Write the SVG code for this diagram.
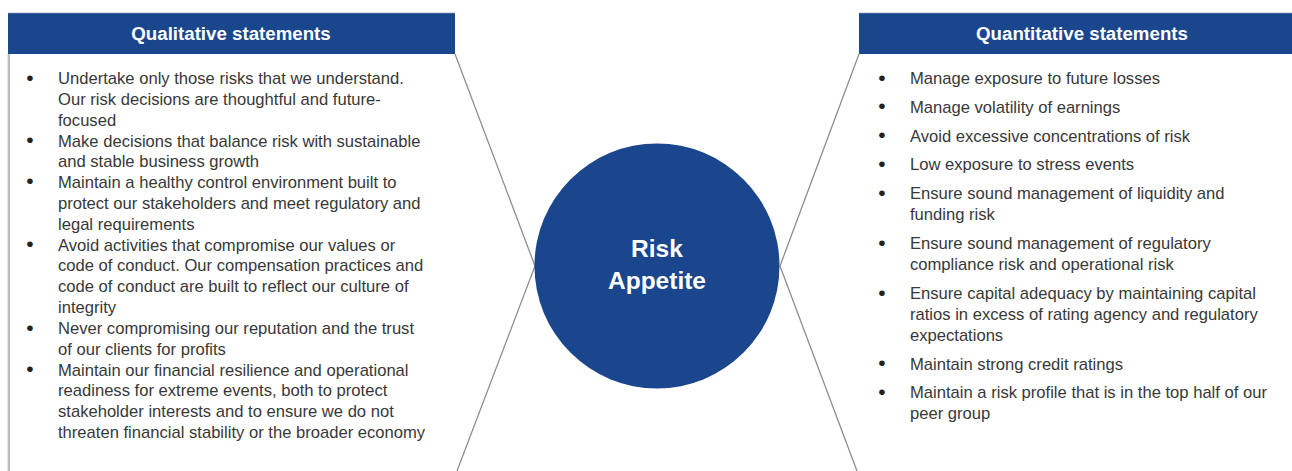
<svg xmlns="http://www.w3.org/2000/svg" width="1292" height="471" viewBox="0 0 1292 471">
<style>
.hdr{fill:#1a468e}
.hdrtxt{font-family:"Liberation Sans",Arial,sans-serif;font-size:18.7px;font-weight:bold;fill:#ffffff;text-anchor:middle}
.body{font-family:"Liberation Sans",Arial,sans-serif;font-size:16.6px;fill:#383838}
.bul{font-family:"Liberation Sans",Arial,sans-serif;font-size:21px;fill:#222222;text-anchor:middle}
.conn{stroke:#8e8e8e;stroke-width:1.3;fill:none}
.ctxt{font-family:"Liberation Sans",Arial,sans-serif;font-size:24.5px;font-weight:bold;fill:#ffffff;text-anchor:middle}
</style>
<rect width="1292" height="471" fill="#ffffff"/>
<g id="connectors">
<polyline class="conn" points="455,54 535,266 457,471"/>
<polyline class="conn" points="859,54 780,266 857,471"/>
<line x1="8.8" y1="54" x2="8.8" y2="471" stroke="#bdbdbd" stroke-width="2.4"/>
</g>
<g id="qualitative">
<rect class="hdr" x="8" y="13" width="447" height="41"/>
<line x1="8" y1="12.8" x2="455" y2="12.8" stroke="#b9c3d6" stroke-width="0.8"/>
<text class="hdrtxt" x="231" y="40">Qualitative statements</text>
<g class="bul">
<text x="30" y="84.5">•</text>
<text x="30" y="147">•</text>
<text x="30" y="188">•</text>
<text x="30" y="251">•</text>
<text x="30" y="334.5">•</text>
<text x="30" y="376">•</text>
</g>
<text class="body">
<tspan x="58" y="84">Undertake only those risks that we understand.</tspan>
<tspan x="58" y="104.8">Our risk decisions are thoughtful and future-</tspan>
<tspan x="58" y="125.6">focused</tspan>
<tspan x="58" y="146.5">Make decisions that balance risk with sustainable</tspan>
<tspan x="58" y="167.3">and stable business growth</tspan>
<tspan x="58" y="188.1">Maintain a healthy control environment built to</tspan>
<tspan x="58" y="208.9">protect our stakeholders and meet regulatory and</tspan>
<tspan x="58" y="229.7">legal requirements</tspan>
<tspan x="58" y="250.6">Avoid activities that compromise our values or</tspan>
<tspan x="58" y="271.4">code of conduct. Our compensation practices and</tspan>
<tspan x="58" y="292.2">code of conduct are built to reflect our culture of</tspan>
<tspan x="58" y="313">integrity</tspan>
<tspan x="58" y="333.8">Never compromising our reputation and the trust</tspan>
<tspan x="58" y="354.7">of our clients for profits</tspan>
<tspan x="58" y="375.5">Maintain our financial resilience and operational</tspan>
<tspan x="58" y="396.3">readiness for extreme events, both to protect</tspan>
<tspan x="58" y="417.1">stakeholder interests and to ensure we do not</tspan>
<tspan x="58" y="438">threaten financial stability or the broader economy</tspan>
</text>
</g>
<g id="risk-appetite">
<circle cx="657" cy="266" r="122.5" fill="#1a468e"/>
<text class="ctxt" x="657" y="257">Risk</text>
<text class="ctxt" x="657" y="289">Appetite</text>
</g>
<g id="quantitative">
<rect class="hdr" x="859" y="13" width="433" height="41"/>
<line x1="859" y1="12.8" x2="1292" y2="12.8" stroke="#b9c3d6" stroke-width="0.8"/>
<text class="hdrtxt" x="1082" y="40">Quantitative statements</text>
<g class="bul">
<text x="882" y="84.5">•</text>
<text x="882" y="113.3">•</text>
<text x="882" y="142.1">•</text>
<text x="882" y="170.9">•</text>
<text x="882" y="199.7">•</text>
<text x="882" y="249.8">•</text>
<text x="882" y="299.8">•</text>
<text x="882" y="370">•</text>
<text x="882" y="398.8">•</text>
</g>
<text class="body">
<tspan x="910" y="84">Manage exposure to future losses</tspan>
<tspan x="910" y="112.8">Manage volatility of earnings</tspan>
<tspan x="910" y="141.6">Avoid excessive concentrations of risk</tspan>
<tspan x="910" y="170.4">Low exposure to stress events</tspan>
<tspan x="910" y="199.2">Ensure sound management of liquidity and</tspan>
<tspan x="910" y="220">funding risk</tspan>
<tspan x="910" y="249.3">Ensure sound management of regulatory</tspan>
<tspan x="910" y="270.1">compliance risk and operational risk</tspan>
<tspan x="910" y="299.3">Ensure capital adequacy by maintaining capital</tspan>
<tspan x="910" y="320.1">ratios in excess of rating agency and regulatory</tspan>
<tspan x="910" y="340.9">expectations</tspan>
<tspan x="910" y="369.5">Maintain strong credit ratings</tspan>
<tspan x="910" y="398.3">Maintain a risk profile that is in the top half of our</tspan>
<tspan x="910" y="419.1">peer group</tspan>
</text>
</g>
</svg>
